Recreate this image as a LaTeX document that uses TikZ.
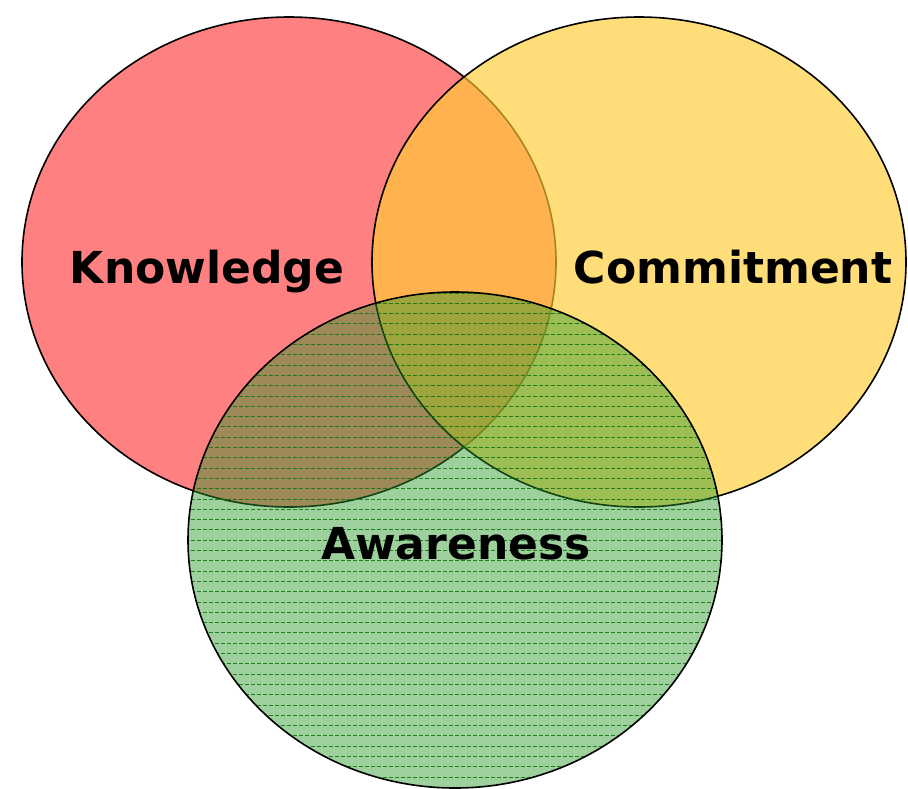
\documentclass[tikz,border=0pt]{standalone}
\usepackage{fontspec}
\setmainfont{DejaVu Sans}
\definecolor{kred}{RGB}{255,128,128}
\definecolor{cyel}{RGB}{255,205,50}
\definecolor{agrn}{RGB}{40,150,40}
\definecolor{aline}{RGB}{10,115,10}
\begin{document}
\begin{tikzpicture}[x=1pt,y=-1pt,
  circ/.style={draw=black,line width=1.6pt},
  lbl/.style={font=\bfseries\fontsize{44}{44}\selectfont,text=black,inner sep=0pt,anchor=base}]
\useasboundingbox (0,0) rectangle (908,788);
% Knowledge
\path[circ,fill=kred] (289,262) ellipse [x radius=267,y radius=245];
% Commitment
\path[fill=cyel,fill opacity=0.65] (639,262) ellipse [x radius=267,y radius=245];
\draw[circ] (639,262) ellipse [x radius=267,y radius=245];
% Awareness
\path[fill=agrn,fill opacity=0.45] (455,540) ellipse [x radius=267,y radius=248];
\begin{scope}
  \clip (455,540) ellipse [x radius=267,y radius=248];
  \foreach \yy in {293,303.3,...,790} {
    \draw[aline,line width=1pt,dash pattern=on 4pt off 2pt,opacity=0.85] (185,\yy) -- (725,\yy);
  }
\end{scope}
\draw[circ] (455,540) ellipse [x radius=267,y radius=248];
\node[lbl] (know) at (207,283) {Knowledge};
\node[lbl] (comm) at (733,283) {Commitment};
\node[lbl] (awar) at (456,559) {Awareness};
\end{tikzpicture}
\end{document}
